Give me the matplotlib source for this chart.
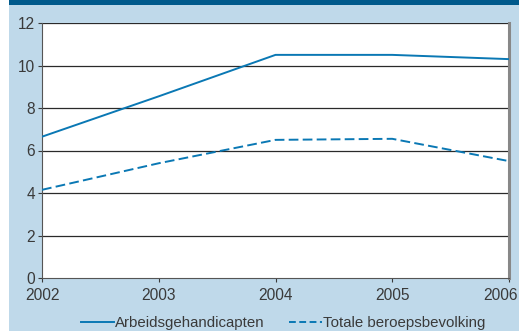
import matplotlib
matplotlib.use('Agg')
from matplotlib import pyplot as plt
from matplotlib.patches import Rectangle
from matplotlib.lines import Line2D
from matplotlib.transforms import ScaledTranslation

plt.rcParams['font.family'] = ['Liberation Sans Narrow', 'Liberation Sans', 'DejaVu Sans']

years = [2002, 2003, 2004, 2005, 2006]
arbeidsgehandicapten = [6.65, 8.55, 10.5, 10.5, 10.3]
beroepsbevolking = [4.15, 5.4, 6.5, 6.55, 5.5]
y_ticks = [0, 2, 4, 6, 8, 10, 12]

line_color = '#0a78b4'
panel_color = '#bfd9ea'
text_color = '#3a3a3a'

fig = plt.figure(figsize=(5.19, 3.31), dpi=100)
fig.patch.set_facecolor('white')
W, H = 519, 331

# light blue panel with dark blue band on top
fig.patches.append(Rectangle((9 / W, 0), 1 - 9 / W, 1 - 5 / H, transform=fig.transFigure,
                             facecolor=panel_color, edgecolor='none', zorder=-2))
fig.patches.append(Rectangle((9 / W, 1 - 5 / H), 1 - 9 / W, 5 / H, transform=fig.transFigure,
                             facecolor='#005a8c', edgecolor='none', zorder=-2))

left, right, top, bottom = 42, 509, 23, 278
axes = fig.add_axes([left / W, 1 - bottom / H, (right - left) / W, (bottom - top) / H])
axes.set_zorder(2)
axes.set_facecolor('white')
axes.set_xlim(2002, 2006)
axes.set_ylim(0, 12)
axes.set_xticks(years)
axes.set_yticks(y_ticks)
axes.set_xticklabels([str(y) for y in years])
axes.tick_params(axis='both', labelsize=11.2, colors=text_color, length=3, width=0.8)
axes.tick_params(axis='x', pad=4)
axes.tick_params(axis='y', pad=2)

# last year label sits against the right edge
last = axes.get_xticklabels()[-1]
last.set_horizontalalignment('right')
last.set_transform(last.get_transform() + ScaledTranslation(0.09, 0, fig.dpi_scale_trans))

for v in y_ticks[1:]:
    axes.axhline(v, color='#2a2a2a', linewidth=0.9, zorder=1)
axes.spines['top'].set_visible(False)
axes.spines['left'].set_color('#555555')
axes.spines['bottom'].set_color('#555555')
axes.spines['right'].set_color('#888888')
axes.spines['right'].set_linewidth(2.2)

axes.plot(years, arbeidsgehandicapten, color=line_color, linewidth=1.4, zorder=3)
axes.plot(years, beroepsbevolking, color=line_color, linewidth=1.4,
          linestyle=(0, (5, 2.2)), zorder=3)

handles = [Line2D([], [], color=line_color, linewidth=1.4),
           Line2D([], [], color=line_color, linewidth=1.4, linestyle=(0, (3.5, 1.8)))]
fig.legend(handles, ['Arbeidsgehandicapten', 'Totale beroepsbevolking'],
           loc='center', bbox_to_anchor=(283 / W, 1 - 323 / H), ncol=2, frameon=False,
           fontsize=10.8, labelcolor=text_color, handlelength=2.2, handletextpad=0.1,
           columnspacing=1.6, borderpad=0)

plt.savefig('out.png', dpi=100)
